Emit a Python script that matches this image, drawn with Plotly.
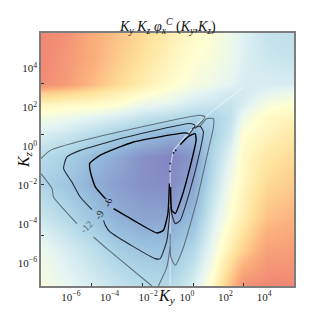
import plotly.graph_objects as go

# field nodes: log10 K_y, log10 K_z and the level read at each node
GRID_X = [-7.55, -6.2, -4.9, -3.6, -2.3, -0.86, 0.33, 1.38, 2.24, 2.93, 4.14, 5.55]
GRID_Y = [5.83, 4.6, 3.22, 2.8, 2.2, 1.5, 0.65, -0.55, -1.92, -3.64, -5.35, -7.19]
LEVELS = [
    [-38, -36, -31, -28, -25, -22, -20, -18.5, -17, -15.5, -13.5, -13],
    [-38, -35, -31, -27, -24, -21, -19, -18, -17, -15.5, -14, -13.5],
    [-37, -34, -29, -25, -22, -19.5, -18, -17, -16, -15, -15, -15],
    [-27, -26, -24, -22, -20, -18, -16.5, -15.5, -14.5, -14.5, -16, -17],
    [-21, -20, -20, -19, -17, -16, -14.5, -14, -13.5, -15, -18, -19],
    [-18, -17, -16, -15, -13.5, -12.5, -11.5, -11.5, -13, -17, -20, -21],
    [-15, -14, -12.5, -11, -9.5, -8, -8.5, -11, -14, -19, -21, -23],
    [-12.5, -11, -9, -7.5, -5.5, -4.5, -6, -12, -16, -20, -23, -25],
    [-11.5, -10, -8, -6.5, -5.5, -5, -7, -13, -17.5, -20.5, -25, -27],
    [-14, -12, -10, -8, -7, -7, -9, -15, -19, -22, -28, -30],
    [-17, -15, -13, -11, -10, -9.5, -12, -17, -22, -26, -33, -34],
    [-18, -16.5, -15, -13.5, -12.5, -12, -15, -20, -28, -36, -38, -38],
]

# contour arcs, (log10 K_y, log10 K_z)
C6 = [
    ([-3.79, -2.76, -1.55, -1.21, -0.98, -0.90], [-3.21, -3.81, -4.46, -4.32, -3.46, -1.92]),
    ([-0.84, -0.78, -0.60, -0.26, 0.17, 0.48, 0.43, 0.09, -0.34], [-2.09, -3.29, -3.46, -2.61, -1.06, 0.31, 0.65, 0.51, 0.09]),
    ([0.09, -0.09, -2.76, -4.48, -5.03, -4.97, -4.74, -4.22], [0.65, 0.69, 0.22, -0.46, -0.89, -1.41, -2.09, -2.69]),
]
C6_DOTS = ([-0.69, -0.57, -0.86, -0.88], [-0.34, -0.21, -0.89, -1.29])
C9 = [
    ([-4.91, -5.52, -5.95, -6.38, -6.21, -5.52, -3.10, 0.17, 0.43, 0.09], [-3.26, -2.61, -1.84, -1.15, -0.55, -0.21, 0.48, 1.17, 1.08, 0.57]),
    ([0.26, 0.69, 0.86, 0.69, 0.17, -0.34, -0.60, -0.78, -0.86], [0.91, 1.03, 0.74, -0.21, -2.26, -3.81, -3.98, -3.46, -2.09]),
    ([-0.86, -1.03, -1.38, -1.64, -3.97, -4.22, -4.31], [-3.12, -4.84, -5.78, -5.78, -4.41, -4.07, -3.81]),
]
C12 = [
    ([-7.55, -7.07, -5.34, 0.69, 0.95, 0.43], [-0.63, -0.21, 0.31, 1.60, 1.51, 0.91]),
    ([0.69, 1.03, 1.38, 1.38, 1.03, 0.52, -0.17, -0.60, -0.83, -0.86], [1.03, 1.42, 1.42, 0.99, -0.55, -2.78, -5.18, -6.12, -5.69, -4.49]),
    ([-0.86, -1.03, -1.47], [-5.18, -6.21, -7.19]),
    ([-1.81, -4.14, -4.83], [-7.19, -5.27, -4.67]),
    ([-7.55, -6.98, -6.90, -5.69], [-1.41, -2.18, -2.61, -3.98]),
]
RIDGES = [
    ([-0.86, -0.69, 0.34, 1.38, 2.93], [-1.06, -0.21, 1.0, 1.85, 3.05]),
    ([-0.86, -0.86], [-1.06, -7.19]),
]

LABEL_EXP = [-6, -4, -2, 0, 2, 4]
TICK_X_EXP = [-4.91, -2.29, 0.33, 2.93]
TICK_Y_EXP = [3.22, 0.62, -1.97, -4.58]
RANGE_X = [-7.55, 5.55]
RANGE_Y = [-7.19, 5.83]


def p10(values):
    return [10 ** v for v in values]


COLORS = [
    (-38, "rgb(240,135,115)"), (-30, "rgb(252,178,125)"), (-24, "rgb(254,226,155)"),
    (-19, "rgb(255,255,210)"), (-16, "rgb(228,244,243)"), (-12, "rgb(178,216,232)"),
    (-9, "rgb(150,188,220)"), (-6, "rgb(135,152,202)"), (-4, "rgb(130,125,190)"),
]
lo, hi = COLORS[0][0], COLORS[-1][0]
scale = [[(v - lo) / (hi - lo), c] for v, c in COLORS]

fig = go.Figure()
fig.add_trace(go.Heatmap(x=p10(GRID_X), y=p10(GRID_Y), z=LEVELS, zmin=lo, zmax=hi,
                         colorscale=scale, zsmooth="best", showscale=False, hoverinfo="skip"))
for xs, ys in RIDGES:
    fig.add_trace(go.Scatter(x=p10(xs), y=p10(ys), mode="lines",
                             line=dict(color="rgba(240,248,250,0.6)", width=1.2)))


def arcs(items, color, width):
    for xs, ys in items:
        fig.add_trace(go.Scatter(x=p10(xs), y=p10(ys), mode="lines",
                                 line=dict(color=color, width=width, shape="spline", smoothing=0.5)))


arcs(C12, "rgb(95,112,122)", 1.1)
arcs(C9, "rgb(35,45,55)", 1.1)
arcs(C6, "rgb(0,0,0)", 1.4)
fig.add_trace(go.Scatter(x=p10(C6_DOTS[0]), y=p10(C6_DOTS[1]), mode="markers",
                         marker=dict(color="rgb(20,20,30)", size=1.8)))

FONT = "Liberation Serif"
ticktext = [f"10<sup>{str(e).replace('-', '−')}</sup>" for e in LABEL_EXP]
for name, ticks, rng in (("xaxis", TICK_X_EXP, RANGE_X), ("yaxis", TICK_Y_EXP, RANGE_Y)):
    fig.layout[name] = dict(
        type="log", range=rng, tickvals=p10(LABEL_EXP), ticktext=ticktext, ticks="",
        tickfont=dict(family=FONT, size=11, color="#222"),
        showgrid=False, zeroline=False, showline=True, mirror=True,
        linecolor="rgb(125,125,125)", linewidth=1.5,
        minor=dict(tickvals=p10(ticks), ticks="inside", ticklen=3, tickcolor="#333", tickwidth=1, showgrid=False),
    )

ann = [
    dict(x=-4.09, y=-2.90, text="-6", textangle=-70, color="#000"),
    dict(x=-4.57, y=-3.55, text="-9", textangle=-60, color="rgb(35,45,55)"),
    dict(x=-5.17, y=-4.15, text="-12", textangle=-45, color="rgb(95,112,122)"),
]
annotations = [dict(x=a["x"], y=a["y"], xref="x", yref="y", text=a["text"], textangle=a["textangle"],
                    showarrow=False, font=dict(family=FONT, size=10, color=a["color"])) for a in ann]
# axis titles and heading, placed in fractions of the plot area
annotations += [
    dict(x=0.496, y=-0.041, xref="paper", yref="paper", text="<i>K<sub>y</sub></i>", showarrow=False,
         xanchor="center", yanchor="middle", font=dict(family=FONT, size=16, color="#111")),
    dict(x=-0.067, y=0.498, xref="paper", yref="paper", text="<i>K<sub>z</sub></i>", textangle=-90, showarrow=False,
         xanchor="center", yanchor="middle", font=dict(family=FONT, size=16, color="#111")),
    dict(x=0.5, y=1.028, xref="paper", yref="paper",
         text="<i>K<sub>y</sub> K<sub>z</sub> φ<sub>x</sub><sup>C</sup></i> (<i>K<sub>y</sub></i>,<i>K<sub>z</sub></i>)",
         xanchor="center", yanchor="middle", showarrow=False, font=dict(family=FONT, size=14, color="#111")),
]

fig.update_layout(width=327, height=327, autosize=False, showlegend=False,
                  margin=dict(l=41, r=33, t=33, b=41.3, pad=0),
                  paper_bgcolor="white", plot_bgcolor="white", annotations=annotations)
fig.write_html("out.html", config={"displayModeBar": False},
               post_script="document.body.style.margin='0';")
